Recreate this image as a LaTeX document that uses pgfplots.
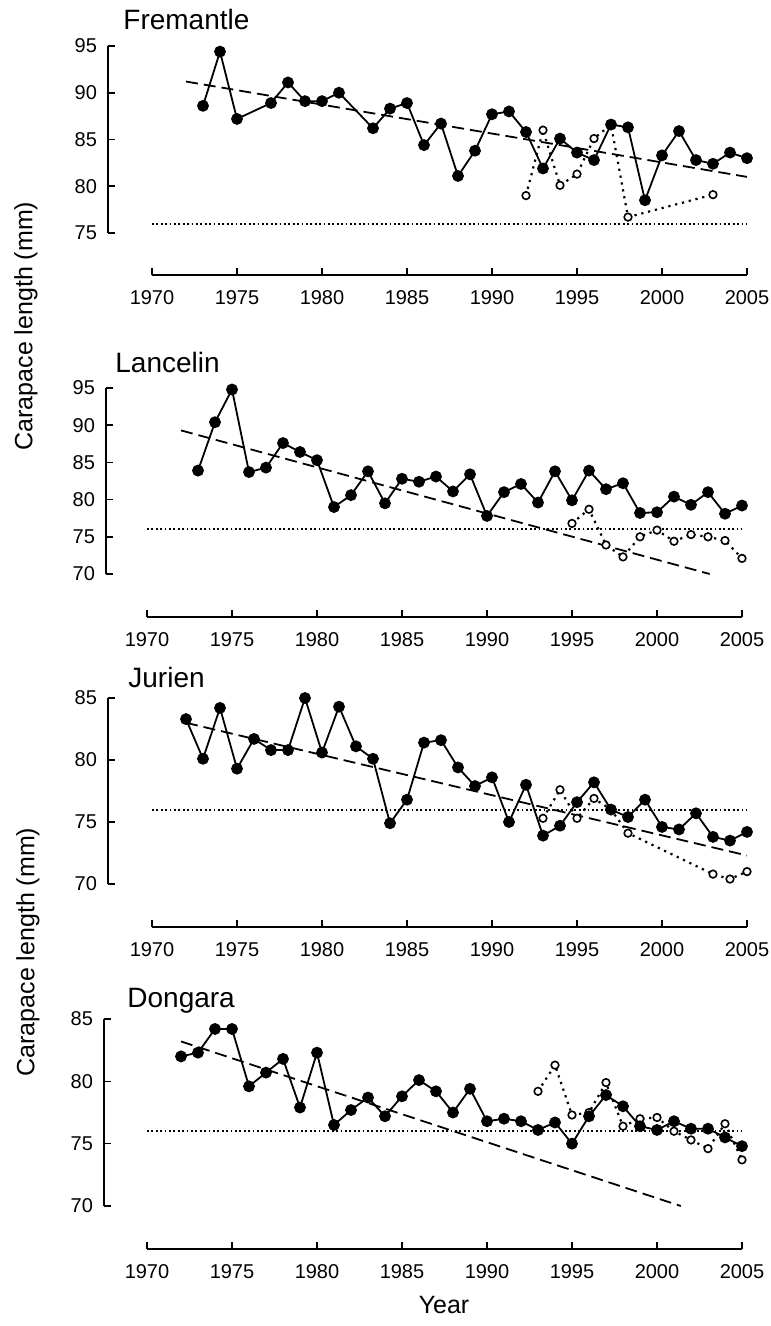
\documentclass[border=0pt]{standalone}
\usepackage{fontspec}
\setmainfont{Liberation Sans}
\usepackage{pgfplots}
\pgfplotsset{compat=1.18}

% one px of the reference = 0.5pt
\pgfplotsset{
  panel/.style={
    scale only axis, width=297.5pt,
    xmin=1970, xmax=2005,
    axis x line*=bottom, axis y line*=left,
    xtick={1970,1975,...,2005},
    tick align=inside, major tick length=3.5pt,
    tick style={black, line width=0.8pt},
    axis line style={line width=1pt},
    tick label style={font=\fontsize{10}{12}\selectfont},
    /pgf/number format/assume math mode=true,
    /pgf/number format/1000 sep={},
    xticklabel style={yshift=-4pt},
    yticklabel style={xshift=-2pt},
    clip=false, anchor=south west,
  },
  obs/.style={black, line width=0.9pt, mark=*, mark size=2.5pt, mark options={solid}},
  sub/.style={black, line width=1.1pt, dash pattern=on 1.1pt off 2.4pt,
    mark=*, mark size=1.9pt, mark options={solid, fill=white, draw=black, line width=0.8pt}},
  trend/.style={black, line width=0.9pt, dash pattern=on 6pt off 3pt},
  ref/.style={black, line width=0.9pt, dash pattern=on 0.9pt off 1.3pt},
}

\begin{document}
\begin{tikzpicture}
\path[use as bounding box] (0,0) rectangle (385pt,-663pt);

% Fremantle
\begin{axis}[panel, at={(76pt,-116.5pt)}, height=93.5pt,
  ymin=75, ymax=95, ytick={75,80,85,90,95},
  axis x line shift=21pt, axis y line shift=22pt]
\addplot[ref] coordinates {(1970,76) (2005,76)};
\addplot[trend] coordinates {(1972,91.2) (2005,81.0)};
\addplot[sub] coordinates {(1992,79.0) (1993,86.0) (1994,80.1) (1995,81.3) (1996,85.1)
  (1997,86.6) (1998,76.7) (2003,79.1)};
\addplot[obs] coordinates {(1973,88.6) (1974,94.4) (1975,87.2) (1977,88.9) (1978,91.1)
  (1979,89.1) (1980,89.1) (1981,90.0) (1983,86.2) (1984,88.3) (1985,88.9) (1986,84.4)
  (1987,86.7) (1988,81.1) (1989,83.8) (1990,87.7) (1991,88.0) (1992,85.8) (1993,81.9)
  (1994,85.1) (1995,83.6) (1996,82.8) (1997,86.6) (1998,86.3) (1999,78.5) (2000,83.3)
  (2001,85.9) (2002,82.8) (2003,82.4) (2004,83.6) (2005,83.0)};
\end{axis}

% Lancelin
\begin{axis}[panel, at={(73.5pt,-287pt)}, height=93pt,
  ymin=70, ymax=95, ytick={70,75,...,95},
  axis x line shift=21.5pt, axis y line shift=20.5pt]
\addplot[ref] coordinates {(1970,76) (2005,76)};
\addplot[trend] coordinates {(1972,89.3) (2003.1,70)};
\addplot[sub] coordinates {(1995,76.8) (1996,78.7) (1997,73.9) (1998,72.3) (1999,75.0)
  (2000,75.9) (2001,74.4) (2002,75.3) (2003,75.0) (2004,74.5) (2005,72.1)};
\addplot[obs] coordinates {(1973,83.9) (1974,90.4) (1975,94.8) (1976,83.7) (1977,84.3)
  (1978,87.6) (1979,86.4) (1980,85.3) (1981,79.0) (1982,80.6) (1983,83.8) (1984,79.5)
  (1985,82.8) (1986,82.4) (1987,83.1) (1988,81.1) (1989,83.4) (1990,77.8) (1991,81.0)
  (1992,82.1) (1993,79.6) (1994,83.8) (1995,79.9) (1996,83.9) (1997,81.4) (1998,82.2)
  (1999,78.2) (2000,78.3) (2001,80.4) (2002,79.3) (2003,81.0) (2004,78.1) (2005,79.2)};
\end{axis}

% Jurien
\begin{axis}[panel, at={(76pt,-442pt)}, height=93pt,
  ymin=70, ymax=85, ytick={70,75,80,85},
  axis x line shift=21.5pt, axis y line shift=22pt]
\addplot[ref] coordinates {(1970,76) (2005,76)};
\addplot[trend] coordinates {(1972,83.0) (2005,72.3)};
\addplot[sub] coordinates {(1993,75.3) (1994,77.6) (1995,75.3) (1996,76.9) (1997,76.0)
  (1998,74.1) (2003,70.8) (2004,70.4) (2005,71.0)};
\addplot[obs] coordinates {(1972,83.3) (1973,80.1) (1974,84.2) (1975,79.3) (1976,81.7)
  (1977,80.8) (1978,80.8) (1979,85.0) (1980,80.6) (1981,84.3) (1982,81.1) (1983,80.1)
  (1984,74.9) (1985,76.8) (1986,81.4) (1987,81.6) (1988,79.4) (1989,77.9) (1990,78.6)
  (1991,75.0) (1992,78.0) (1993,73.9) (1994,74.7) (1995,76.6) (1996,78.2) (1997,76.0)
  (1998,75.4) (1999,76.8) (2000,74.6) (2001,74.4) (2002,75.7) (2003,73.8) (2004,73.5)
  (2005,74.2)};
\end{axis}

% Dongara
\begin{axis}[panel, at={(73.5pt,-603pt)}, height=93.5pt,
  ymin=70, ymax=85, ytick={70,75,80,85},
  axis x line shift=21.5pt, axis y line shift=21.5pt]
\addplot[ref] coordinates {(1970,76) (2005,76)};
\addplot[trend] coordinates {(1972,83.2) (2001.4,70)};
\addplot[sub] coordinates {(1993,79.2) (1994,81.3) (1995,77.3) (1996,77.5) (1997,79.9)
  (1998,76.4) (1999,77.0) (2000,77.1) (2001,76.0) (2002,75.3) (2003,74.6) (2004,76.6)
  (2005,73.7)};
\addplot[obs] coordinates {(1972,82.0) (1973,82.3) (1974,84.2) (1975,84.2) (1976,79.6)
  (1977,80.7) (1978,81.8) (1979,77.9) (1980,82.3) (1981,76.5) (1982,77.7) (1983,78.7)
  (1984,77.2) (1985,78.8) (1986,80.1) (1987,79.2) (1988,77.5) (1989,79.4) (1990,76.8)
  (1991,77.0) (1992,76.8) (1993,76.1) (1994,76.7) (1995,75.0) (1996,77.2) (1997,78.9)
  (1998,78.0) (1999,76.4) (2000,76.1) (2001,76.8) (2002,76.2) (2003,76.2) (2004,75.5)
  (2005,74.8)};
\end{axis}

% titles and axis labels
\begin{scope}[font=\fontsize{14}{16}\selectfont]
\node[anchor=base west, inner sep=0pt] at (61.5pt,-15pt) {Fremantle};
\node[anchor=base west, inner sep=0pt] at (57.5pt,-186pt) {Lancelin};
\node[anchor=base west, inner sep=0pt] at (64pt,-343.5pt) {Jurien};
\node[anchor=base west, inner sep=0pt] at (63.5pt,-503.5pt) {Dongara};
\end{scope}
\begin{scope}[font=\fontsize{12.5}{14}\selectfont]
\node[rotate=90, inner sep=0pt] at (13pt,-163pt) {Carapace length (mm)};
\node[rotate=90, inner sep=0pt] at (14pt,-476pt) {Carapace length (mm)};
\node[inner sep=0pt] at (222pt,-652.5pt) {Year};
\end{scope}
\end{tikzpicture}
\end{document}
